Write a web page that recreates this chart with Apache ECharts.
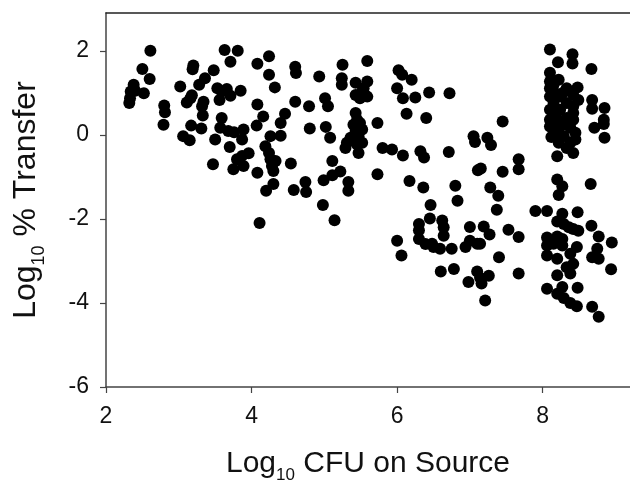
<!DOCTYPE html>
<html>
<head>
<meta charset="utf-8">
<script src="https://cdn.jsdelivr.net/npm/echarts@6/dist/echarts.min.js"></script>
<style>
  html, body { margin: 0; padding: 0; background: #fff; }
  #chart { width: 630px; height: 489px; }
</style>
</head>
<body>
<div id="chart"></div>
<script>
// tick positions
var xTicks = [2, 4, 6, 8];
var yTicks = [-6, -4, -2, 0, 2];

// points, grouped by region  [log10 CFU, log10 % transfer]
var lowLeft = [
  [2.61,2.0],[2.50,1.57],[2.60,1.33],[2.52,0.99],[2.38,1.19],[2.34,1.03],[2.33,0.87],[2.32,0.76],[2.40,1.05],
  [2.80,0.70],[2.81,0.54],[2.79,0.24],
  [3.02,1.15],[3.06,-0.03],[3.15,-0.13],[3.20,1.65],[3.19,1.56],[3.28,1.19],[3.36,1.35],[3.48,1.54],[3.18,0.94],
  [3.11,0.77],[3.16,0.87],[3.34,0.79],[3.32,0.68],[3.33,0.46],[3.17,0.22],[3.31,0.15],
  [3.53,1.11],[3.59,1.03],[3.66,1.09],[3.71,0.93],[3.56,0.83],[3.85,1.05],[3.63,2.02],[3.81,2.0],[3.71,1.74],
  [3.59,0.40],[3.57,0.17],[3.68,0.09],[3.76,0.06],[3.89,0.13],[3.87,-0.11],[3.50,-0.11],[3.70,-0.29],[3.47,-0.70],
  [3.80,-0.58],[3.75,-0.82],[3.89,-0.74],[3.96,-0.44],[3.87,-0.50]
];
var midLeft = [
  [4.08,0.72],[4.07,0.22],[4.16,0.44],[4.08,-0.90],[4.08,1.69],[4.24,1.87],[4.24,1.43],[4.32,1.13],[4.26,-0.03],
  [4.19,-0.27],[4.24,-0.43],[4.26,-0.58],[4.28,-0.74],[4.33,-0.62],[4.30,-0.86],[4.40,-0.02],[4.40,0.28],[4.46,0.50],
  [4.30,-1.17],[4.20,-1.33],[4.54,-0.68],[4.60,1.62],[4.61,1.47],[4.60,0.79],[4.79,0.68],[4.80,0.15],[4.58,-1.31],
  [4.74,-1.12],[4.75,-1.36],[4.93,1.39],[5.01,0.87],[5.05,0.68],[5.02,0.19],[5.08,-0.07],[4.99,-1.08],[5.11,-0.96],
  [5.22,-0.87],[5.11,-0.62],[4.98,-1.67],[5.14,-2.03],[4.11,-2.10]
];
var midCluster = [
  [5.25,1.67],[5.24,1.35],[5.24,1.19],[5.59,1.76],[5.43,1.24],[5.59,1.27],[5.54,1.11],[5.43,0.95],[5.49,0.87],
  [5.59,0.91],[5.52,1.03],[5.43,0.52],[5.45,0.36],[5.40,0.24],[5.49,0.28],[5.43,0.09],[5.52,0.13],[5.36,-0.07],
  [5.47,-0.03],[5.52,-0.19],[5.31,-0.19],[5.45,-0.23],[5.47,-0.43],[5.29,-0.31],[5.33,-1.12],[5.33,-1.33],
  [5.73,0.28],[5.73,-0.94]
];
var midUpper = [
  [5.80,-0.31],[5.93,-0.35],[6.08,-0.49],[6.32,-0.39],[6.37,-0.54],[6.71,-0.41],[6.17,-1.10],[6.36,-1.25],
  [6.46,-1.67],[6.80,-1.21],[6.83,-1.57],[6.02,1.54],[6.07,1.43],[6.20,1.31],[6.00,1.11],[6.08,0.87],[6.25,0.89],
  [6.44,1.01],[6.72,0.99],[6.13,0.50],[6.40,0.40],[7.05,-0.03],[7.07,-0.17],[7.24,-0.07],[7.29,-0.24],[7.45,0.32],
  [7.11,-0.84],[7.15,-0.80],[7.45,-0.88],[7.67,-0.58],[7.67,-0.82],[7.28,-1.25],[7.39,-1.45],[7.37,-1.78]
];
var midLower = [
  [6.45,-1.99],[6.30,-2.12],[6.30,-2.27],[6.30,-2.48],[6.00,-2.52],[6.06,-2.87],[6.39,-2.60],[6.48,-2.59],
  [6.50,-2.67],[6.59,-2.71],[6.75,-2.71],[6.62,-2.04],[6.64,-2.20],[6.64,-2.40],[6.60,-3.25],[6.78,-3.19],
  [6.94,-2.67],[7.00,-2.52],[7.10,-2.59],[7.14,-2.59],[7.00,-2.19],[7.19,-2.18],[7.27,-2.37],[6.98,-3.50],
  [7.10,-3.25],[7.14,-3.40],[7.16,-3.54],[7.26,-3.35],[7.21,-3.94],[7.40,-2.91],[7.53,-2.26],[7.67,-2.43],[7.67,-3.30]
];
var highUpper = [
  [8.10,2.03],[8.41,1.92],[8.41,1.70],[8.21,1.73],[8.67,1.57],[8.10,1.48],[8.22,1.31],[8.10,1.27],[8.10,1.11],
  [8.15,1.03],[8.33,1.11],[8.48,1.13],[8.10,0.91],[8.24,0.91],[8.42,0.95],[8.49,0.83],[8.15,0.76],[8.33,0.76],
  [8.42,0.68],[8.10,0.60],[8.24,0.60],[8.42,0.52],[8.10,0.36],[8.20,0.36],[8.33,0.40],[8.42,0.36],[8.10,0.20],
  [8.24,0.20],[8.38,0.17],[8.45,0.05],[8.20,0.05],[8.29,-0.03],[8.22,-0.19],[8.38,-0.19],[8.45,-0.11],[8.33,-0.31],
  [8.20,-0.51],[8.42,-0.43],[8.68,0.83],[8.68,0.62],[8.85,0.64],[8.84,0.36],[8.84,0.26],[8.71,0.17],[8.85,-0.07],
  [8.15,1.20],[8.28,1.00],[8.18,0.48],[8.30,0.28],[8.12,-0.05]
];
var highLower = [
  [8.20,-1.06],[8.27,-1.22],[8.22,-1.43],[8.66,-1.17],[7.90,-1.81],[8.06,-1.81],[8.27,-1.88],[8.48,-1.84],
  [8.20,-2.06],[8.29,-2.12],[8.36,-2.20],[8.42,-2.24],[8.49,-2.28],[8.67,-2.16],[8.06,-2.44],[8.20,-2.42],
  [8.27,-2.48],[8.06,-2.63],[8.15,-2.59],[8.27,-2.63],[8.06,-2.87],[8.20,-2.95],[8.38,-2.83],[8.47,-2.67],
  [8.42,-3.07],[8.33,-3.15],[8.20,-3.34],[8.38,-3.30],[8.77,-2.42],[8.95,-2.56],[8.75,-2.71],[8.68,-2.91],
  [8.77,-2.95],[8.94,-3.20],[8.06,-3.66],[8.27,-3.62],[8.48,-3.64],[8.20,-3.78],[8.29,-3.88],[8.38,-4.00],
  [8.47,-4.08],[8.68,-4.09],[8.77,-4.33]
];

var allPoints = lowLeft.concat(midLeft, midCluster, midUpper, midLower, highUpper, highLower);

var font = 'Liberation Sans, Arial, Helvetica, sans-serif';
var axisColor = '#444';

var chart = echarts.init(document.getElementById('chart'), null, { renderer: 'canvas' });

chart.setOption({
  animation: false,
  backgroundColor: '#fff',
  grid: { left: 106, right: 0, top: 13, bottom: 100 },
  xAxis: [{
    type: 'value',
    min: 2, max: 9.2,
    position: 'bottom',
    splitLine: { show: false },
    axisLine: { onZero: false, lineStyle: { color: axisColor, width: 1.5 } },
    axisTick: { length: 6, lineStyle: { color: axisColor, width: 1.2 }, customValues: xTicks },
    axisLabel: { customValues: xTicks, margin: 18, fontSize: 23, color: '#111', fontFamily: font },
    name: 'Log{sub|10} CFU on Source',
    nameLocation: 'middle',
    nameGap: 56,
    nameTextStyle: {
      fontSize: 30, color: '#111', fontFamily: font,
      rich: { sub: { fontSize: 17, fontFamily: font, color: '#111', padding: [24, 0, 0, 0] } }
    }
  }, {
    type: 'value',
    min: 2, max: 9.2,
    position: 'top',
    axisLine: { onZero: false, lineStyle: { color: '#222', width: 1.5 } },
    axisTick: { show: false },
    axisLabel: { show: false },
    splitLine: { show: false }
  }],
  yAxis: {
    type: 'value',
    min: -6, max: 2.9,
    splitLine: { show: false },
    axisLine: { show: true, onZero: false, lineStyle: { color: axisColor, width: 1.5 } },
    axisTick: { show: true, length: 6, lineStyle: { color: axisColor, width: 1.2 }, customValues: yTicks },
    axisLabel: { customValues: yTicks, margin: 17, fontSize: 23, color: '#111', fontFamily: font },
    name: 'Log{sub|10} % Transfer',
    nameLocation: 'middle',
    nameGap: 58,
    nameTextStyle: {
      fontSize: 32, color: '#111', fontFamily: font,
      rich: { sub: { fontSize: 18, fontFamily: font, color: '#111', padding: [26, 0, 0, 0] } }
    }
  },
  series: [{
    type: 'scatter',
    xAxisIndex: 0,
    data: allPoints,
    symbol: 'circle',
    symbolSize: 12,
    itemStyle: { color: '#000', opacity: 1 }
  }]
});
</script>
</body>
</html>
